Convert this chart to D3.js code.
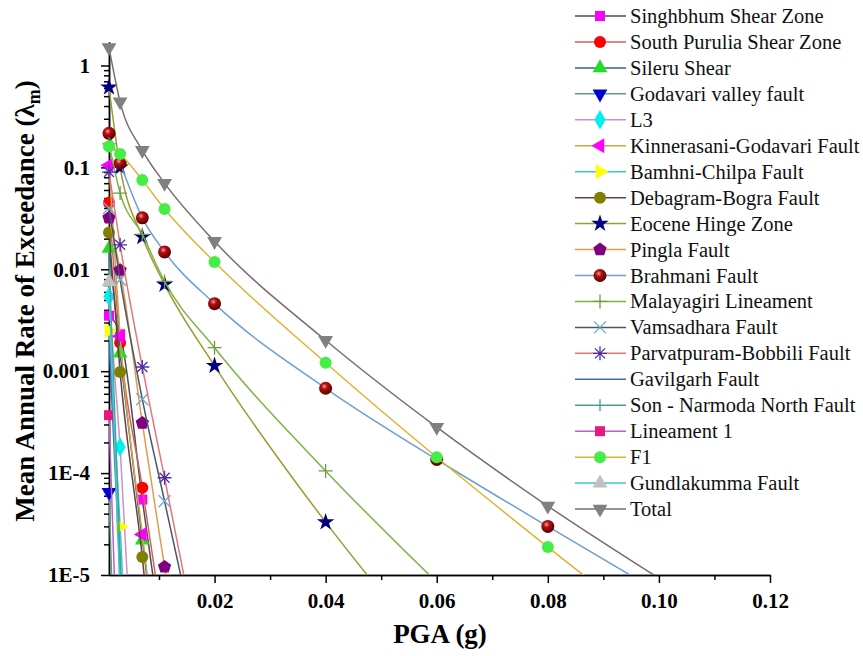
<!DOCTYPE html>
<html>
<head>
<meta charset="utf-8">
<script src="https://cdn.jsdelivr.net/npm/d3@7"></script>
<style>
body { margin: 0; background: #fff; }
svg text { font-family: "Liberation Serif", "Times New Roman", serif; }
.axis path, .axis line { stroke: #000; stroke-width: 1.5; }
.axis text { font-size: 21px; font-weight: bold; fill: #000; }
</style>
</head>
<body>
<svg id="chart" width="863" height="656"></svg>
<script>
// PGA levels (g)
var pga = [0.001, 0.003, 0.007, 0.011, 0.02, 0.04, 0.06, 0.08, 0.1];

var faultNames = ["Singhbhum Shear Zone", "South Purulia Shear Zone", "Sileru Shear",
  "Godavari valley fault", "L3", "Kinnerasani-Godavari Fault", "Bamhni-Chilpa Fault",
  "Debagram-Bogra Fault", "Eocene Hinge Zone", "Pingla Fault", "Brahmani Fault",
  "Malayagiri Lineament", "Vamsadhara Fault", "Parvatpuram-Bobbili Fault", "Gavilgarh Fault",
  "Son - Narmoda North Fault", "Lineament 1", "F1", "Gundlakumma Fault", "Total"];

// mean annual rate of exceedance, one value per pga level
var singhbhum    = [0.0035, 0.0023, 5.5e-5, 1.5e-6];
var southPurulia = [0.045, 0.0019, 7.2e-5, 2.5e-6];
var sileru       = [0.016, 0.0015, 2.2e-5, 4e-7];
var godavari     = [6.5e-5, 2e-8];
var l3           = [0.0054, 1.8e-4, 2e-8];
var kinnerasani  = [0.105, 0.0022, 2.5e-5, 4e-7];
var bamhni       = [0.0025, 3e-5, 1e-9];
var debagram     = [0.023, 0.00098, 1.5e-5, 1e-7];
var eocene       = [0.61, 0.1, 0.0208, 0.0071, 0.00113, 3.3e-5, 1.5e-6];
var pingla       = [0.032, 0.0098, 3.1e-4, 1.2e-5, 8e-9];
var brahmani     = [0.216, 0.11, 0.032, 0.0148, 0.0046, 6.8e-4, 1.36e-4, 3.0e-5, 6.8e-6];
var malayagiri   = [0.17, 0.056, 0.022, 0.0076, 0.0017, 1.05e-4, 8.5e-6];
var vamsadhara   = [0.04, 0.0079, 5.3e-4, 5.3e-5, 3e-7];
var parvatpuram  = [0.09, 0.0174, 0.0011, 9e-5, 3e-7];
var gavilgarh    = [0.002, 1e-5, 1e-10];
var sonNarmoda   = [0.012, 1.5e-5, 1e-10];
var lineament1   = [3.7e-4, 2e-7];
var f1           = [0.16, 0.135, 0.075, 0.039, 0.0118, 0.00121, 1.43e-4, 1.88e-5, 2.6e-6];
var gundlakumma  = [0.0075, 6e-6, 1e-10];
var total        = [1.5, 0.44, 0.147, 0.07, 0.0188, 0.00201, 2.82e-4, 4.75e-5, 9.3e-6];

var rates = [singhbhum, southPurulia, sileru, godavari, l3, kinnerasani, bamhni, debagram,
  eocene, pingla, brahmani, malayagiri, vamsadhara, parvatpuram, gavilgarh, sonNarmoda,
  lineament1, f1, gundlakumma, total];

var xTicks = [0.02, 0.04, 0.06, 0.08, 0.10, 0.12];
var xMinorTicks = [0.01, 0.03, 0.05, 0.07, 0.09, 0.11];
var yTicks = [1e-5, 1e-4, 0.001, 0.01, 0.1, 1];
var yTickLabels = ["1E-5", "1E-4", "0.001", "0.01", "0.1", "1"];

// styles
var lineColors = ["#4d4d4d", "#d45f5f", "#3e5b8f", "#5f9a8c", "#c993c9", "#c9a646", "#3fc3d3",
  "#6b3e3e", "#9c9b32", "#e39a4f", "#6f9fd2", "#7db344", "#4a5866", "#e07878", "#3b6db4",
  "#3fa38f", "#b365c4", "#e0b234", "#45c4d2", "#7b6b70"];
var markerColors = ["#ff00ff", "#ff0000", "#22dd22", "#0000d0", "#00f0f0", "#ff00ff", "#ffff00",
  "#808000", "#000080", "#800080", "#8b0000", "#6f9a4a", "#6aaad0", "#5030a0", null,
  "#40a090", "#e6177f", "#44ee44", "#c0c0c0", "#808080"];
var markerShapes = ["square", "circle", "triUp", "triDown", "diamond", "triLeft", "triRight",
  "circle", "star", "pentagon", "sphere", "plus", "cross", "asterisk", "none",
  "bar", "square", "circle", "triUp", "triDown"];

var svg = d3.select("#chart");

var x = d3.scaleLinear().domain([0.001, 0.12]).range([109, 770]);
var y = d3.scaleLog().domain([1e-5, 1.7]).range([575, 42]);

var defs = svg.append("defs");
defs.append("clipPath").attr("id", "plotclip")
  .append("rect").attr("x", 109).attr("y", 42).attr("width", 661).attr("height", 533);

var grad = defs.append("radialGradient").attr("id", "sphere")
  .attr("cx", "40%").attr("cy", "35%").attr("r", "65%");
grad.append("stop").attr("offset", "0%").attr("stop-color", "#ff9a9a");
grad.append("stop").attr("offset", "35%").attr("stop-color", "#b01010");
grad.append("stop").attr("offset", "100%").attr("stop-color", "#5a0000");

// axes
var xAxis = d3.axisBottom(x).tickValues(xTicks).tickFormat(d3.format(".2f"))
  .tickSize(8).tickSizeOuter(0).tickPadding(10);
var xMinor = d3.axisBottom(x).tickValues(xMinorTicks).tickFormat("")
  .tickSize(5).tickSizeOuter(0);
var yAxis = d3.axisLeft(y).tickValues(yTicks).tickFormat(function(d, i) { return yTickLabels[i]; })
  .tickSize(8).tickSizeOuter(0).tickPadding(11);
var yMinorValues = y.ticks().filter(function(d) {
  return Math.abs(Math.log10(d) - Math.round(Math.log10(d))) > 1e-6;
});
var yMinor = d3.axisLeft(y).tickValues(yMinorValues).tickFormat("").tickSize(5).tickSizeOuter(0);

svg.append("g").attr("class", "axis").attr("transform", "translate(0,575)").call(xMinor);
svg.append("g").attr("class", "axis").attr("transform", "translate(0,575)").call(xAxis);
svg.append("g").attr("class", "axis").attr("transform", "translate(109,0)").call(yMinor);
svg.append("g").attr("class", "axis").attr("transform", "translate(109,0)").call(yAxis);

// axis titles
svg.append("text")
  .attr("x", 440).attr("y", 643)
  .attr("text-anchor", "middle")
  .style("font-size", "27px").style("font-weight", "bold")
  .text("PGA (g)");

var yt = svg.append("text")
  .attr("transform", "translate(34,301) rotate(-90)")
  .attr("text-anchor", "middle")
  .style("font-size", "27px").style("font-weight", "bold");
yt.append("tspan").text("Mean Annual Rate of Exceedance (\u03bb");
yt.append("tspan").attr("dy", 6).style("font-size", "18px").text("m");
yt.append("tspan").attr("dy", -6).text(")");

// marker drawing
function pentagonPath(r) {
  var pts = d3.range(5).map(function(k) {
    var a = -Math.PI / 2 + k * 2 * Math.PI / 5;
    return [r * Math.cos(a), r * Math.sin(a)];
  });
  return "M" + pts.join("L") + "Z";
}

function drawMarker(g, shape, color) {
  if (shape === "none") return;
  if (shape === "square") {
    g.append("rect").attr("x", -5).attr("y", -5).attr("width", 10).attr("height", 10)
      .attr("fill", color);
  } else if (shape === "circle") {
    g.append("circle").attr("r", 6).attr("fill", color);
  } else if (shape === "sphere") {
    g.append("circle").attr("r", 6.5).attr("fill", "url(#sphere)");
  } else if (shape === "diamond") {
    g.append("path").attr("d", d3.symbol(d3.symbolDiamond, 110)()).attr("fill", color);
  } else if (shape === "star") {
    g.append("path").attr("d", d3.symbol(d3.symbolStar, 95)()).attr("fill", color);
  } else if (shape === "pentagon") {
    g.append("path").attr("d", pentagonPath(7)).attr("fill", color);
  } else if (shape.indexOf("tri") === 0) {
    var rot = { triUp: 0, triDown: 180, triLeft: -90, triRight: 90 }[shape];
    g.append("path").attr("d", d3.symbol(d3.symbolTriangle, 95)())
      .attr("transform", "rotate(" + rot + ")").attr("fill", color);
  } else if (shape === "plus") {
    g.append("path").attr("d", "M-7,0H7M0,-7V7").attr("stroke", color).attr("stroke-width", 1.3);
  } else if (shape === "cross") {
    g.append("path").attr("d", "M-6,-6L6,6M-6,6L6,-6").attr("stroke", color).attr("stroke-width", 1.3);
  } else if (shape === "asterisk") {
    g.append("path").attr("d", "M-7,0H7M0,-7V7M-5,-5L5,5M-5,5L5,-5")
      .attr("stroke", color).attr("stroke-width", 1.3);
  } else if (shape === "bar") {
    g.append("path").attr("d", "M0,-6V6").attr("stroke", color).attr("stroke-width", 1.3);
  }
}

// series
var line = d3.line()
  .x(function(d) { return x(d[0]); })
  .y(function(d) { return y(d[1]); })
  .curve(d3.curveMonotoneX);

var plot = svg.append("g");

rates.forEach(function(vals, i) {
  var pts = vals.map(function(v, k) { return [pga[k], v]; });
  var g = plot.append("g");
  g.append("path")
    .attr("clip-path", "url(#plotclip)")
    .attr("d", line(pts))
    .attr("fill", "none")
    .attr("stroke", lineColors[i])
    .attr("stroke-width", 1.5);
  pts.filter(function(p) { return p[1] >= 1e-5 && p[1] <= 1.7; }).forEach(function(p) {
    var m = g.append("g").attr("transform", "translate(" + x(p[0]) + "," + y(p[1]) + ")");
    drawMarker(m, markerShapes[i], markerColors[i]);
  });
});

// legend
var legend = svg.append("g");
faultNames.forEach(function(name, i) {
  var cy = 16 + i * 25.95;
  var row = legend.append("g").attr("transform", "translate(0," + cy + ")");
  row.append("line").attr("x1", 575).attr("x2", 626).attr("y1", 0).attr("y2", 0)
    .attr("stroke", lineColors[i]).attr("stroke-width", 1.5);
  var m = row.append("g").attr("transform", "translate(600,0)");
  drawMarker(m, markerShapes[i], markerColors[i]);
  row.append("text").attr("x", 630).attr("y", 7)
    .style("font-size", "20.5px").attr("fill", "#111")
    .text(name);
});
</script>
</body>
</html>
